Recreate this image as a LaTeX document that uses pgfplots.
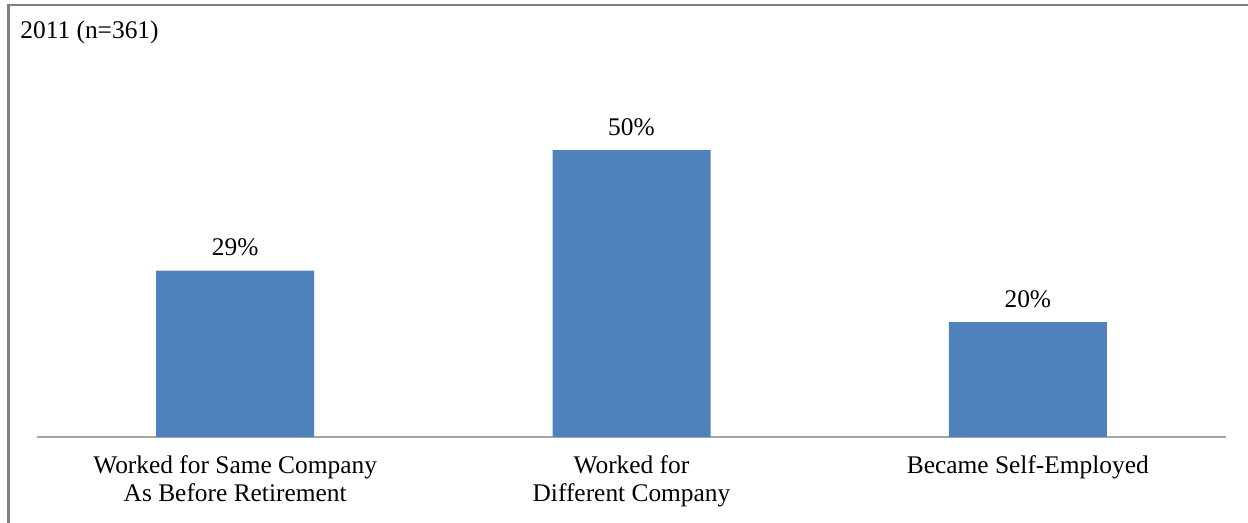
\documentclass[border=0pt]{standalone}
\usepackage{fontspec}
\setmainfont{Liberation Serif}
\usepackage{pgfplots}
\pgfplotsset{compat=1.18}
\definecolor{barblue}{RGB}{79,129,189}
\definecolor{axgray}{RGB}{165,165,165}
\definecolor{framegray}{RGB}{128,128,128}
\newcommand{\lblfont}{\fontsize{12.7}{14}\selectfont}
\begin{document}
\begin{tikzpicture}[x=1pt,y=1pt]
\path[use as bounding box] (0,0) rectangle (624,261.5);
\begin{axis}[
  at={(18.5pt,43pt)}, anchor=south west,
  scale only axis, width=594.5pt, height=172.2pt,
  xmin=-0.5, xmax=2.5, ymin=0, ymax=60,
  axis x line=bottom, axis y line=none,
  x axis line style={-, draw=axgray, line width=1pt},
  xtick={0,1,2},
  xticklabels={Worked for Same Company\\As Before Retirement, Worked for\\Different Company, Became Self-Employed},
  xtick style={draw=none}, major tick length=0pt,
  ytick=\empty,
  /pgf/number format/assume math mode=true,
  xticklabel style={align=center, font=\lblfont, anchor=north, inner sep=0pt, yshift=-9pt},
  ybar, bar width=79pt,
  nodes near coords={\pgfmathprintnumber{\pgfplotspointmeta}\%},
  nodes near coords style={font=\lblfont, anchor=base, inner sep=0pt, yshift=7.5pt, text=black},
  clip=false,
]
\addplot[fill=barblue, draw=none] coordinates {(0,29) (1,50) (2,20)};
\end{axis}
\draw[framegray, line width=1.25pt] (4.25,0) -- (4.25,259) -- (624,259);
\node[anchor=base west, inner sep=0pt, font=\lblfont] at (10,242) {2011 (n=361)};
\end{tikzpicture}
\end{document}
